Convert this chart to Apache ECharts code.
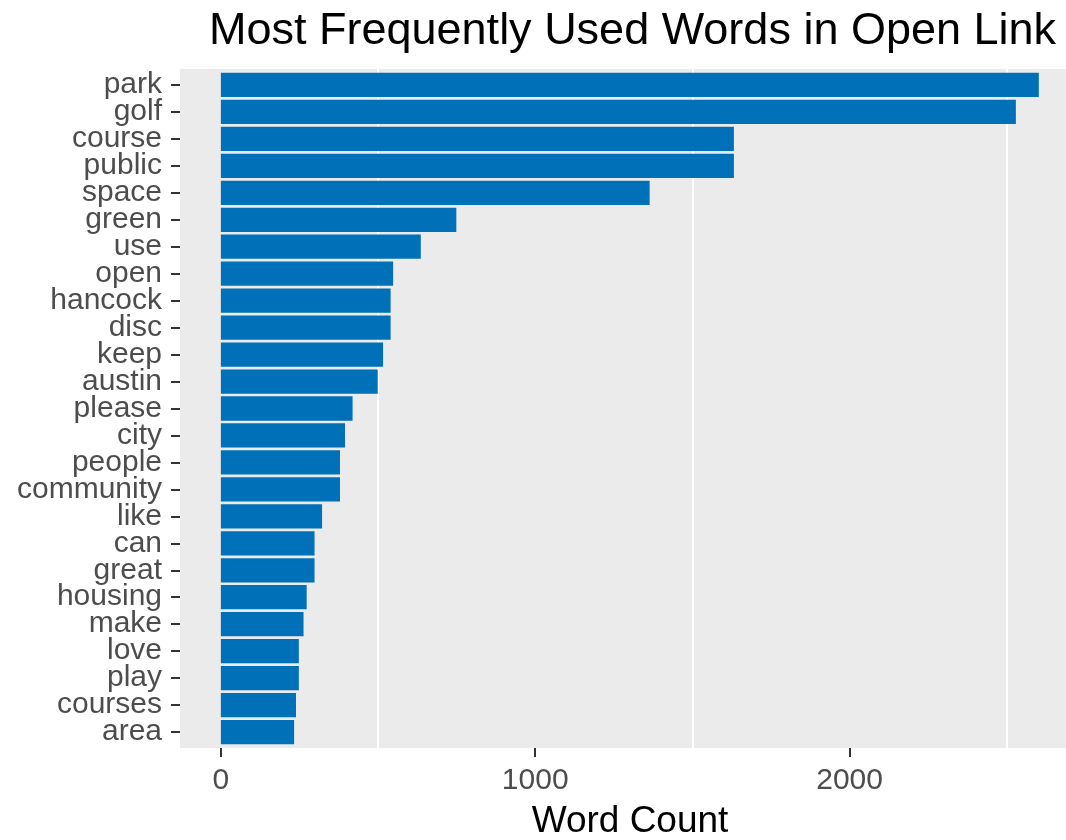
<!DOCTYPE html>
<html>
<head>
<meta charset="utf-8">
<script src="https://cdn.jsdelivr.net/npm/echarts@6/dist/echarts.min.js"></script>
<style>
  html, body { margin: 0; padding: 0; background: #ffffff; }
  #chart { width: 1066px; height: 840px; }
</style>
</head>
<body>
<div id="chart"></div>
<script>
// ---- data ----
var words = ['park', 'golf', 'course', 'public', 'space', 'green', 'use', 'open', 'hancock', 'disc',
  'keep', 'austin', 'please', 'city', 'people', 'community', 'like', 'can', 'great', 'housing',
  'make', 'love', 'play', 'courses', 'area'];
var wordCounts = [2602, 2529, 1632, 1632, 1364, 749, 636, 548, 540, 540,
  516, 499, 419, 395, 379, 379, 322, 298, 298, 273,
  263, 248, 248, 239, 233];
var xTickValues = [0, 1000, 2000];
var minorGridValues = [500, 1500, 2500];
var chartTitle = 'Most Frequently Used Words in Open Link';
var xAxisTitle = 'Word Count';

var FONT = "'Liberation Sans', Arial, Helvetica, sans-serif";
var X_MIN = -130, X_MAX = 2733;

var chart = echarts.init(document.getElementById('chart'), null, { renderer: 'canvas' });
chart.setOption({
  animation: false,
  backgroundColor: '#ffffff',
  title: {
    text: chartTitle,
    left: 204,
    top: 4,
    textStyle: { fontFamily: FONT, fontSize: 45, fontWeight: 'normal', color: '#000000' }
  },
  grid: [
    { left: 180, right: -14, top: 69, bottom: 92, show: true, backgroundColor: '#EBEBEB', borderWidth: 0,
      containLabel: false, outerBoundsMode: 'none' },
    { left: 180, right: -14, top: 71.5, bottom: 94.5, show: false,
      containLabel: false, outerBoundsMode: 'none' }
  ],
  xAxis: [
    { type: 'value', gridIndex: 0, min: X_MIN, max: X_MAX, show: false },
    {
      type: 'value', gridIndex: 1, min: X_MIN, max: X_MAX, offset: 2.5,
      axisLine: { show: false, onZero: false },
      splitLine: { show: false },
      axisTick: { show: true, length: 9, customValues: xTickValues, lineStyle: { color: '#333333', width: 2 } },
      axisLabel: {
        customValues: xTickValues, margin: 18, fontFamily: FONT, fontSize: 30, color: '#4D4D4D',
        formatter: function (v) { return String(v); }
      },
      name: xAxisTitle,
      nameLocation: 'middle',
      nameGap: 55,
      nameTextStyle: { fontFamily: FONT, fontSize: 37, color: '#000000' }
    }
  ],
  yAxis: [
    { type: 'value', gridIndex: 0, min: 0, max: 1, show: false },
    {
      type: 'category', gridIndex: 1, data: words, inverse: true,
      axisLine: { show: false, onZero: false },
      splitLine: { show: false },
      axisTick: { show: true, length: 9, alignWithLabel: true, lineStyle: { color: '#333333', width: 2 } },
      axisLabel: { interval: 0, margin: 18, fontFamily: FONT, fontSize: 30, color: '#4D4D4D' }
    }
  ],
  series: [
    {
      type: 'line', xAxisIndex: 0, yAxisIndex: 0, data: [], z: 1, silent: true,
      markLine: {
        z: 1, silent: true, symbol: 'none', label: { show: false },
        lineStyle: { color: '#ffffff', width: 2, type: 'solid' },
        data: minorGridValues.map(function (v) { return { xAxis: v }; })
      }
    },
    {
      type: 'bar', xAxisIndex: 1, yAxisIndex: 1, data: wordCounts, z: 3,
      barCategoryGap: '10%',
      itemStyle: { color: '#0070B8' }
    }
  ]
});
</script>
</body>
</html>
